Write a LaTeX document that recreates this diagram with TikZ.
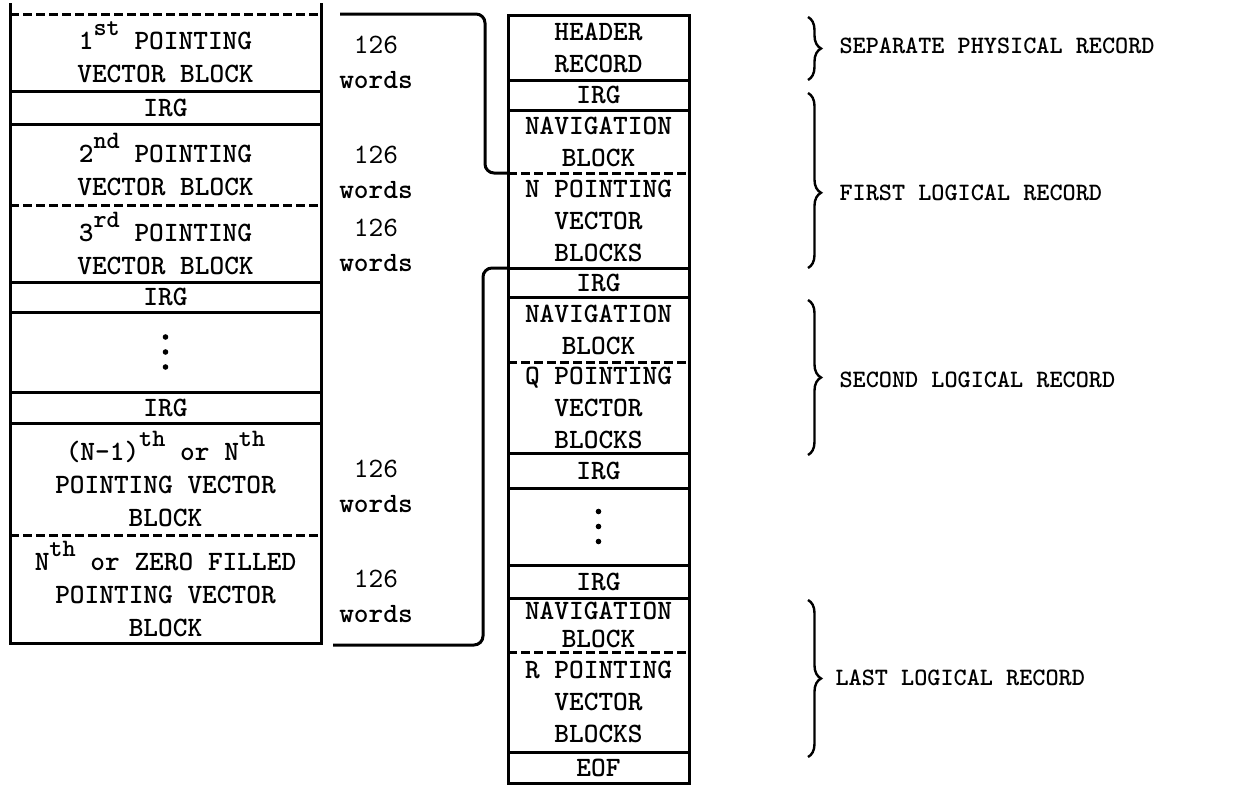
\documentclass[tikz,border=0pt]{standalone}
\usepackage{fontspec}
\usetikzlibrary{positioning,decorations.pathreplacing}
\newfontfamily\tw{lmmonolt10-bold.otf}
\newfontfamily\twm{lmmono10-regular.otf}
\newcommand\ordsup[1]{\raisebox{0.5em}{\fontsize{25}{25}\selectfont #1}}

\begin{document}
\begin{tikzpicture}[x=1pt,y=-1pt]
   \tikzstyle{ln}=[line width=3pt]
   \tikzstyle{dsh}=[dash pattern=on 9pt off 4pt]
   \tikzstyle{lc}=[rectangle,inner sep=0pt,outer sep=0pt,minimum width=311pt,align=center,font=\fontsize{28}{33}\tw]
   \tikzstyle{rc}=[lc,minimum width=181pt,font=\fontsize{28}{32}\tw]
   \tikzstyle{wd}=[align=center,font=\fontsize{28}{35}\tw]
   \tikzstyle{lab}=[anchor=west,font=\fontsize{25}{30}\tw]
   \tikzstyle{con}=[line width=3pt,rounded corners=9pt]
   \tikzstyle{brc}=[line width=2.4pt,decorate,decoration={brace,amplitude=13pt}]

   \useasboundingbox (0,0) rectangle (1254,787);

   % left column: the pointing vector blocks
   \node[lc,minimum height=77pt] (b1) at (165.5,52.5) {1\ordsup{st} POINTING\\VECTOR BLOCK};
   \node[lc,minimum height=33pt,below=0pt of b1] (g1) {IRG};
   \node[lc,minimum height=81pt,below=0pt of g1] (b2) {2\ordsup{nd} POINTING\\VECTOR BLOCK};
   \node[lc,minimum height=77pt,below=0pt of b2] (b3) {3\ordsup{rd} POINTING\\VECTOR BLOCK};
   \node[lc,minimum height=30pt,below=0pt of b3] (g2) {IRG};
   \node[lc,minimum height=80pt,below=0pt of g2] (d1) {};
   \node[lc,minimum height=31pt,below=0pt of d1] (g3) {IRG};
   \node[lc,minimum height=112pt,below=0pt of g3] (b4) {(N-1)\ordsup{th} or N\ordsup{th}\\POINTING VECTOR\\BLOCK};
   \node[lc,minimum height=108pt,below=0pt of b4] (b5) {N\ordsup{th} or ZERO FILLED\\POINTING VECTOR\\BLOCK};

   \draw[ln] (b1.north west) ++(0,-11) -- (b5.south west) -- (b5.south east) -- (b1.north east) -- ++(0,-11);
   \draw[ln,dsh] (b1.north west) -- (b1.north east);
   \foreach \n in {b1,g1,b3,g2,d1,g3}
      \draw[ln] (\n.south west) -- (\n.south east);
   \foreach \n in {b2,b4}
      \draw[ln,dsh] (\n.south west) -- (\n.south east);
   \foreach \k in {-15,0,15}
      \fill (d1.center) ++(0,\k) circle (2.8pt);

   % word counts
   \node[wd] (w1) at (376,62) {{\twm 126}\\words};
   \node[wd] (w2) at (376,172) {{\twm 126}\\words};
   \node[wd] (w3) at (376,245) {{\twm 126}\\words};
   \node[wd] (w4) at (376,486) {{\twm 126}\\words};
   \node[wd] (w5) at (376,596) {{\twm 126}\\words};

   % right column: the file on tape
   \node[rc,minimum height=65pt] (hdr) at (598.5,47.5) {HEADER\\RECORD};
   \node[rc,minimum height=30pt,below=0pt of hdr] (rg1) {IRG};
   \node[rc,minimum height=63pt,below=0pt of rg1] (nav1) {NAVIGATION\\BLOCK};
   \node[rc,minimum height=95pt,below=0pt of nav1] (pv1) {N POINTING\\VECTOR\\BLOCKS};
   \node[rc,minimum height=29pt,below=0pt of pv1] (rg2) {IRG};
   \node[rc,minimum height=65pt,below=0pt of rg2] (nav2) {NAVIGATION\\BLOCK};
   \node[rc,minimum height=91pt,below=0pt of nav2] (pv2) {Q POINTING\\VECTOR\\BLOCKS};
   \node[rc,minimum height=35pt,below=0pt of pv2] (rg3) {IRG};
   \node[rc,minimum height=77pt,below=0pt of rg3] (d2) {};
   \node[rc,minimum height=33pt,below=0pt of d2] (rg4) {IRG};
   \node[rc,minimum height=54pt,below=0pt of rg4,font=\fontsize{28}{28.5}\tw] (nav3) {NAVIGATION\\BLOCK};
   \node[rc,minimum height=100pt,below=0pt of nav3] (pv3) {R POINTING\\VECTOR\\BLOCKS};
   \node[rc,minimum height=31pt,below=0pt of pv3] (eof) {EOF};

   \draw[ln] (hdr.north west) rectangle (eof.south east);
   \foreach \n in {hdr,rg1,pv1,rg2,pv2,rg3,d2,rg4,pv3}
      \draw[ln] (\n.south west) -- (\n.south east);
   \foreach \n in {nav1,nav2,nav3}
      \draw[ln,dsh] (\n.south west) -- (\n.south east);
   \foreach \k in {-15,0,15}
      \fill (d2.center) ++(0,\k) circle (2.8pt);

   % connectors
   \coordinate (t1) at (340,14);
   \coordinate (k1) at (485,100);
   \draw[con] (t1) -| (k1) |- (nav1.south west);
   \coordinate (t2) at (333,645);
   \coordinate (k2) at (483,450);
   \draw[con] (pv1.south west) -| (k2) |- (t2);

   % braces and record labels
   \draw[brc] (808,17) -- (808,80);
   \draw[brc,decoration={aspect=0.57}] (808,93) -- (808,268);
   \draw[brc] (808,300) -- (808,455);
   \draw[brc] (808,600) -- (808,757);
   \node[lab] (lsep) at (836,46) {SEPARATE PHYSICAL RECORD};
   \node[lab] (lfst) at (836,193) {FIRST LOGICAL RECORD};
   \node[lab] (lsnd) at (836,380) {SECOND LOGICAL RECORD};
   \node[lab] (llst) at (832,678) {LAST LOGICAL RECORD};
\end{tikzpicture}
\end{document}
